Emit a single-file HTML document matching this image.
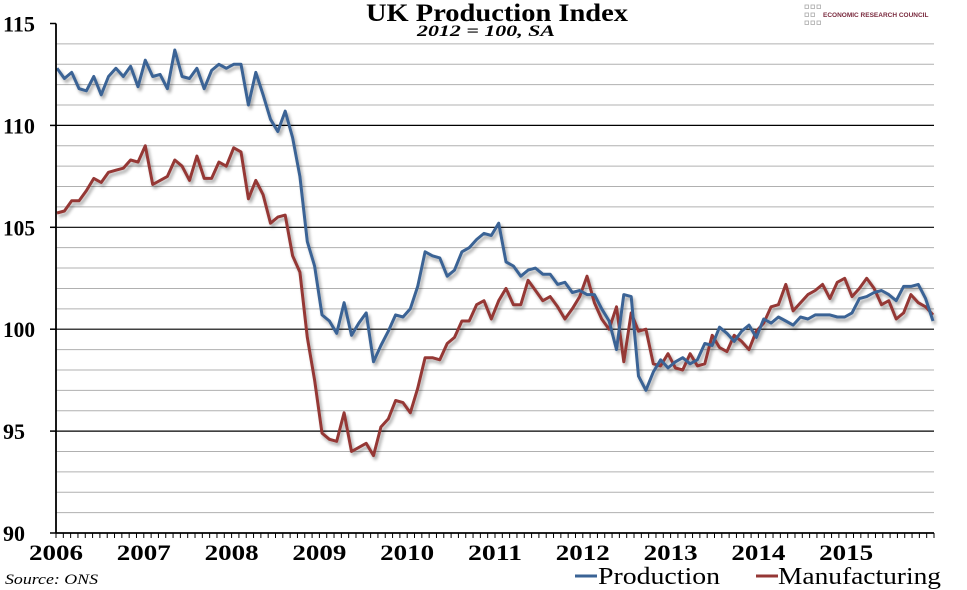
<!DOCTYPE html>
<html><head><meta charset="utf-8"><style>
body{margin:0;background:#fff;}
svg{display:block;font-family:"Liberation Serif",serif;}
</style></head><body>
<svg id="s" width="967" height="590" xmlns="http://www.w3.org/2000/svg">
<defs><filter id="sh" x="-5%" y="-5%" width="110%" height="110%"><feGaussianBlur in="SourceAlpha" stdDeviation="1.5"/><feOffset dx="2" dy="3"/><feComponentTransfer><feFuncA type="linear" slope="0.35"/></feComponentTransfer><feMerge><feMergeNode/><feMergeNode in="SourceGraphic"/></feMerge></filter></defs>
<g id="grid"></g>
<g id="ser" filter="url(#sh)"></g>
<g id="ax"></g>
<text x="366" y="21" font-size="25" font-weight="bold" textLength="262" lengthAdjust="spacingAndGlyphs">UK Production Index</text>
<text x="417" y="36" font-size="16" font-weight="bold" font-style="italic" textLength="138" lengthAdjust="spacingAndGlyphs">2012 = 100, SA</text>
<g fill="none" stroke="#aaa" stroke-width="0.8">
<rect x="805" y="5" width="3.5" height="3.5"/><rect x="811" y="5" width="3.5" height="3.5"/><rect x="817" y="5" width="3.5" height="3.5"/>
<rect x="805" y="13" width="3.5" height="3.5"/><rect x="811" y="13" width="3.5" height="3.5"/>
<rect x="805" y="21" width="3.5" height="3.5"/><rect x="811" y="21" width="3.5" height="3.5"/><rect x="817" y="21" width="3.5" height="3.5"/>
</g>
<text x="823" y="17" font-family="Liberation Sans,sans-serif" font-size="6.5" font-weight="bold" fill="#7a2a3e">ECONOMIC RESEARCH COUNCIL</text>
<text x="5" y="584" font-size="15" font-style="italic" textLength="93" lengthAdjust="spacingAndGlyphs">Source: ONS</text>
<line x1="575" y1="576" x2="597" y2="576" stroke="#3a6395" stroke-width="3"/>
<text x="598" y="584" font-size="24" textLength="122" lengthAdjust="spacingAndGlyphs">Production</text>
<line x1="756" y1="576" x2="778" y2="576" stroke="#953735" stroke-width="3"/>
<text x="778" y="584" font-size="24" textLength="163" lengthAdjust="spacingAndGlyphs">Manufacturing</text>
</svg>
<script>
var P=[112.8,112.3,112.6,111.8,111.7,112.4,111.5,112.4,112.8,112.4,112.9,111.9,
113.2,112.4,112.5,111.8,113.7,112.4,112.3,112.8,111.8,112.7,113.0,112.8,
113.0,113.0,111.0,112.6,111.5,110.3,109.7,110.7,109.4,107.5,104.3,103.1,
100.7,100.4,99.8,101.3,99.7,100.3,100.8,98.4,99.2,99.9,100.7,100.6,
101.0,102.1,103.8,103.6,103.5,102.6,102.9,103.8,104.0,104.4,104.7,104.6,
105.2,103.3,103.1,102.6,102.9,103.0,102.7,102.7,102.2,102.3,101.8,101.9,
101.7,101.7,101.0,100.4,99.0,101.7,101.6,97.7,97.0,97.9,98.5,98.1,
98.4,98.6,98.3,98.5,99.3,99.2,100.1,99.8,99.4,99.9,100.2,99.6,
100.5,100.3,100.6,100.4,100.2,100.6,100.5,100.7,100.7,100.7,100.6,100.6,
100.8,101.5,101.6,101.8,101.9,101.7,101.4,102.1,102.1,102.2,101.5,100.4];
var M=[105.7,105.8,106.3,106.3,106.8,107.4,107.2,107.7,107.8,107.9,108.3,108.2,
109.0,107.1,107.3,107.5,108.3,108.0,107.3,108.5,107.4,107.4,108.2,108.0,
108.9,108.7,106.4,107.3,106.6,105.2,105.5,105.6,103.6,102.8,99.6,97.5,
94.9,94.6,94.5,95.9,94.0,94.2,94.4,93.8,95.2,95.6,96.5,96.4,
95.9,97.1,98.6,98.6,98.5,99.3,99.6,100.4,100.4,101.2,101.4,100.5,
101.4,102.0,101.2,101.2,102.4,101.9,101.4,101.6,101.1,100.5,101.0,101.6,
102.6,101.3,100.5,100.0,101.1,98.4,100.8,99.9,100.0,98.3,98.2,98.8,
98.1,98.0,98.8,98.2,98.3,99.7,99.1,98.9,99.7,99.4,99.0,99.9,
100.3,101.1,101.2,102.2,100.9,101.3,101.7,101.9,102.2,101.5,102.3,102.5,
101.6,102.0,102.5,102.0,101.2,101.4,100.5,100.8,101.7,101.3,101.1,100.7];
var X0=56,X1=934,Y115=23.5,Y90=533,ns="http://www.w3.org/2000/svg";
function y(v){return Y90-(v-90)*(Y90-Y115)/25;}
function x(i){return X0+1+i*(X1-X0-2)/119;}
function el(t,a,p,txt){var e=document.createElementNS(ns,t);for(var k in a)e.setAttribute(k,a[k]);if(txt)e.textContent=txt;document.getElementById(p).appendChild(e);}
for(var v=91;v<=115;v++){if(v%5==0&&v!=115)el('line',{x1:X0,x2:X1,y1:y(v),y2:y(v),stroke:'#000','stroke-width':1.2},'grid');else if(v%5!=0)el('line',{x1:X0,x2:X1,y1:y(v),y2:y(v),stroke:'#b0b0b0','stroke-width':1},'grid');}
function ser(d,c){var s=d.map(function(v,i){return x(i).toFixed(1)+','+y(v).toFixed(1)}).join(' ');el('polyline',{points:s,fill:'none',stroke:c,'stroke-width':3,'stroke-linejoin':'round'},'ser');}
ser(M,'#953735');ser(P,'#3a6395');
el('line',{x1:X0,x2:X0,y1:Y115,y2:Y90,stroke:'#000','stroke-width':1.8},'ax');
el('line',{x1:X0,x2:X1,y1:Y90,y2:Y90,stroke:'#000','stroke-width':1.8},'ax');
for(var v=90;v<=115;v+=5){el('line',{x1:X0-6,x2:X0,y1:y(v),y2:y(v),stroke:'#000','stroke-width':1.5},'ax');
el('text',{x:3,y:y(v)+8,'font-size':22,'font-weight':'bold',textLength:(v<100?22:32),lengthAdjust:'spacingAndGlyphs'},'ax',''+v);}
for(var i=0;i<=120;i++){var xx=X0+i*(X1-X0)/120;el('line',{x1:xx,x2:xx,y1:Y90,y2:Y90+5,stroke:'#000','stroke-width':1},'ax');}
for(var k=0;k<10;k++){el('text',{x:X0+k*12*(X1-X0)/120-27,y:560,'font-size':22,'font-weight':'bold',textLength:54,lengthAdjust:'spacingAndGlyphs'},'ax',''+(2006+k));}
</script>
</body></html>
